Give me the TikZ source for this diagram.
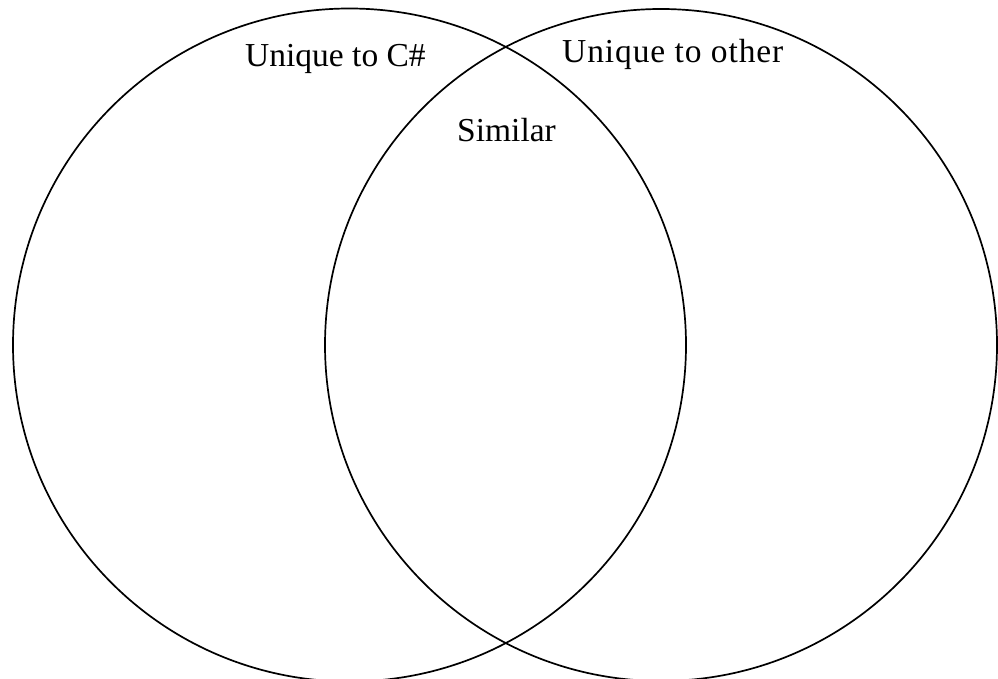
\documentclass[tikz,border=0pt]{standalone}
\usepackage{fontspec}
\setmainfont{Liberation Serif}
\begin{document}
\begin{tikzpicture}[x=1pt,y=-1pt,
  setcircle/.style={draw=black,line width=1.7pt,circle,inner sep=0pt},
  lbl/.style={anchor=base west,inner sep=0pt,font=\fontsize{33.5}{40}\selectfont}]
\useasboundingbox (0,0) rectangle (998,679);
\node[setcircle,minimum size=673pt] (left) at (349.5,345) {};
\node[setcircle,minimum size=672pt] (right) at (661,345) {};
\node[lbl] (uc) at (245,67) {Unique to C\#};
\node[lbl] (uo) at (562,63) {\addfontfeature{LetterSpace=2.7}Unique to other};
\node[lbl] (sim) at (457,142) {Similar};
\end{tikzpicture}
\end{document}
